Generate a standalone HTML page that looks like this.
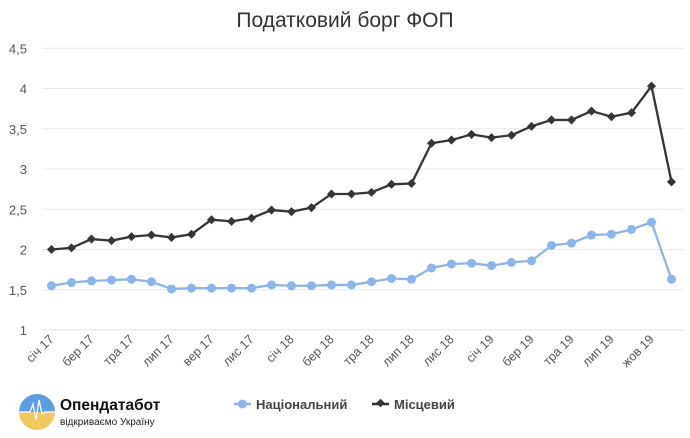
<!DOCTYPE html>
<html><head><meta charset="utf-8"><style>
body{margin:0;background:#fff;font-family:"Liberation Sans",sans-serif;}
svg text{font-family:"Liberation Sans",sans-serif;}
</style></head><body>
<svg id="chart" width="690" height="433" viewBox="0 0 690 433" xmlns="http://www.w3.org/2000/svg">
<text x="345" y="27" text-anchor="middle" font-size="21" fill="#333">Податковий борг ФОП</text>
<g id="grid"></g><g id="xlabels"></g><g id="series"></g>
<g>
 <g>
  <line x1="234" y1="404" x2="251" y2="404" stroke="#8db4e8" stroke-width="2.5"/><circle cx="242.5" cy="404" r="4.5" fill="#8db4e8"/>
  <text x="256" y="409" font-size="13" font-weight="bold" fill="#444">Національний</text></g>
 <g>
  <line x1="372" y1="404" x2="389" y2="404" stroke="#333" stroke-width="2.5"/><rect x="377.5" y="400" width="6" height="6" transform="rotate(45 380.5 403)" fill="#333"/>
  <text x="394" y="409" font-size="13" font-weight="bold" fill="#444">Місцевий</text></g>
</g>
<g>
 <clipPath id="cc"><circle cx="37" cy="412" r="18"/></clipPath>
 <g clip-path="url(#cc)"><rect x="19" y="394" width="36" height="18" fill="#5b9de0"/><rect x="19" y="412" width="36" height="18" fill="#f0c860"/></g>
 <polyline points="19,412 30,412 33,404 36,420 39,400 42,414 45,412 55,412" fill="none" stroke="#fff" stroke-width="1.3"/>
 <text x="60" y="410" font-size="15.5" font-weight="bold" fill="#111">Опендатабот</text>
 <text x="60" y="425" font-size="10" fill="#222">відкриваємо Україну</text>
</g>
</svg>
<script>
const categories=["січ 17","лют 17","бер 17","кві 17","тра 17","чер 17","лип 17","сер 17","вер 17","жов 17","лис 17","гру 17","січ 18","лют 18","бер 18","кві 18","тра 18","чер 18","лип 18","сер 18","лис 18","гру 18","січ 19","лют 19","бер 19","кві 19","тра 19","чер 19","лип 19","сер 19","жов 19","лис 19"];
const nationalValues=[1.55,1.59,1.61,1.62,1.63,1.60,1.51,1.52,1.52,1.52,1.52,1.56,1.55,1.55,1.56,1.56,1.60,1.64,1.63,1.77,1.82,1.83,1.80,1.84,1.86,2.05,2.08,2.18,2.19,2.25,2.34,1.63];
const localValues=[2.0,2.02,2.13,2.11,2.16,2.18,2.15,2.19,2.37,2.35,2.39,2.49,2.47,2.52,2.69,2.69,2.71,2.81,2.82,3.32,3.36,3.43,3.39,3.42,3.53,3.61,3.61,3.72,3.65,3.70,4.03,2.84];
const yTicks=[1,1.5,2,2.5,3,3.5,4,4.5];
const NS="http://www.w3.org/2000/svg";
const x0=51.5,dx=20,yMin=1,yMax=4.5,py0=330,py1=48.3;
function xs(i){return x0+i*dx;}
function ys(v){return py0-(v-yMin)/(yMax-yMin)*(py0-py1);}
function mk(tag,attrs,parent){const e=document.createElementNS(NS,tag);for(const k in attrs)e.setAttribute(k,attrs[k]);parent.appendChild(e);return e;}
const grid=document.getElementById('grid');
yTicks.forEach(t=>{
 const l=mk('line',{x1:42,x2:684,y1:ys(t),y2:ys(t),stroke:t===1?'#dde0e6':'#e6e8ec','stroke-width':1},grid);
 
 
 const tx=mk('text',{x:27,y:ys(t)+5,'text-anchor':'end','font-size':13,fill:'#555'},grid);
 tx.textContent=String(t).replace('.',',');
 
 
});
const xl=document.getElementById('xlabels');
categories.forEach((c,i)=>{
 if(i%2)return;
 const x=xs(i)+3,y=340;
 const t=mk('text',{x:x,y:y,'text-anchor':'end','font-size':12.5,fill:'#555',transform:`rotate(-45 ${x} ${y})`},xl);
 t.textContent=c;
 
 
});
const sg=document.getElementById('series');
function drawSeries(vals,color,name,marker){
 const pl=mk('polyline',{points:vals.map((v,i)=>xs(i)+','+ys(v)).join(' '),fill:'none',stroke:color,'stroke-width':2.3},sg);
 
 
 vals.forEach((v,i)=>{
  let m;
  if(marker==='circle') m=mk('circle',{cx:xs(i),cy:ys(v),r:4.5,fill:color},sg);
  else m=mk('rect',{x:xs(i)-3.2,y:ys(v)-3.2,width:6.4,height:6.4,fill:color,transform:`rotate(45 ${xs(i)} ${ys(v)})`},sg);
  
  
 });
}
drawSeries(nationalValues,'#8db4e8','national','circle');
drawSeries(localValues,'#353535','local','diamond');
</script>
</body></html>
